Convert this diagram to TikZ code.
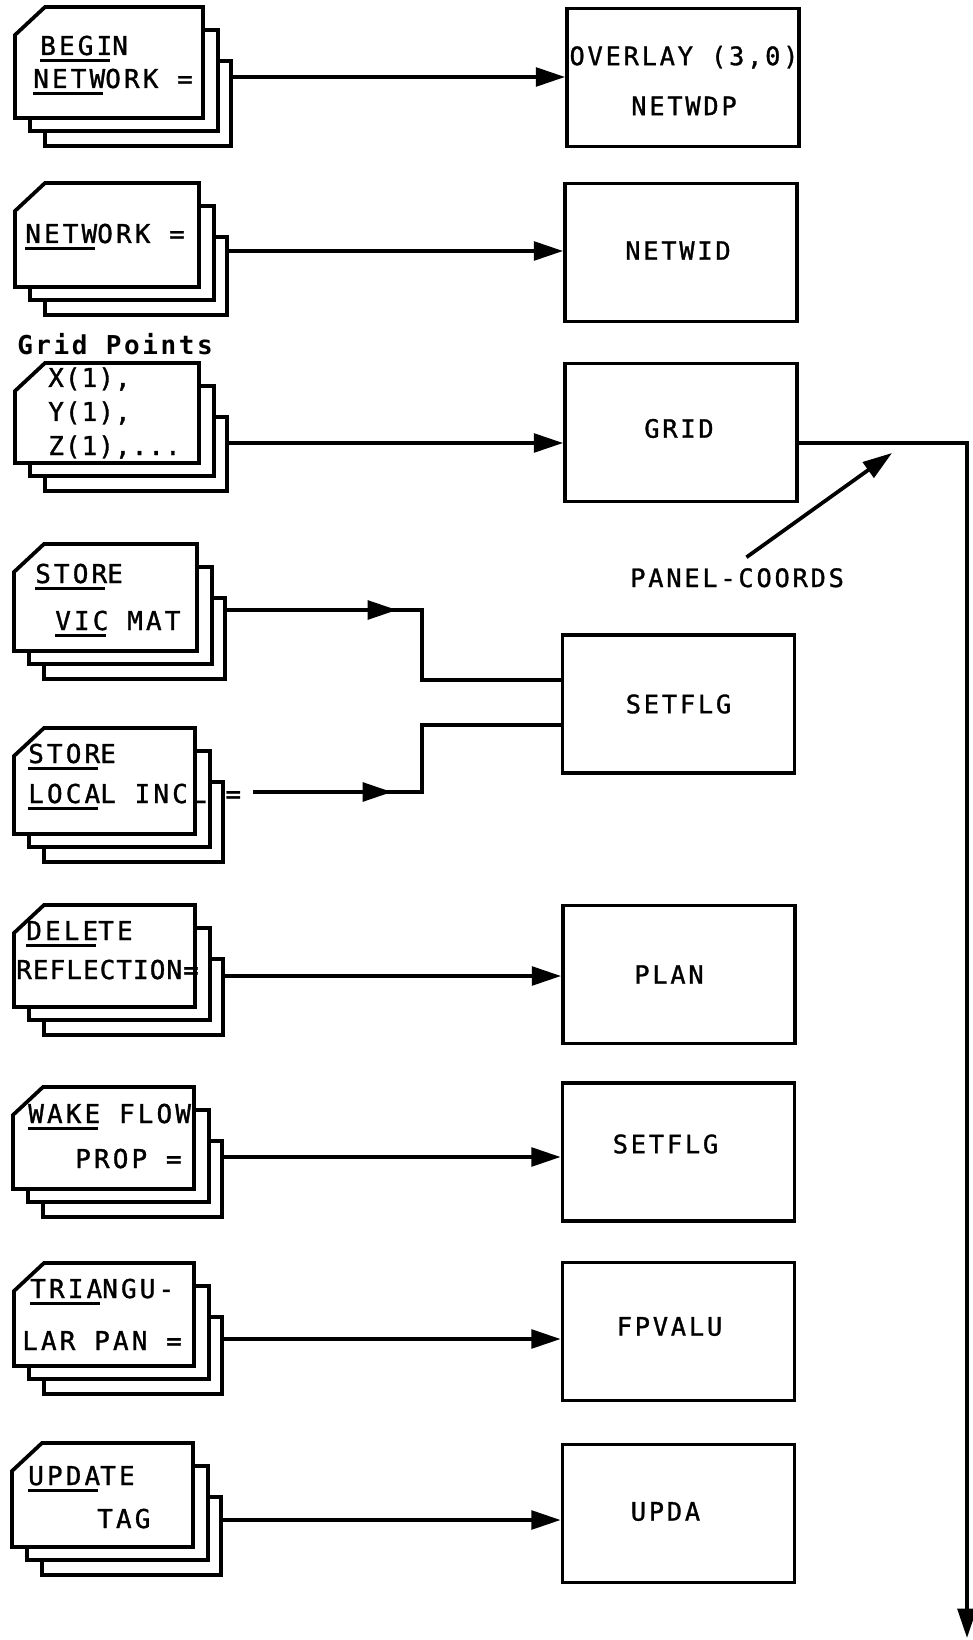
\documentclass[tikz,border=0pt]{standalone}
\usepackage{fontspec}
\usetikzlibrary{arrows.meta, calc}
\newfontfamily\cardfont[LetterSpace=12,FakeBold=1.2]{DejaVu Sans Mono}
\newfontfamily\cardnarrow[LetterSpace=4,FakeBold=1.2]{DejaVu Sans Mono}
\newfontfamily\boxfont[LetterSpace=11,FakeBold=1.2]{DejaVu Sans Mono}
\newfontfamily\gridfont[LetterSpace=10]{DejaVu Sans Mono Bold}
\newsavebox\kwbox
% parola chiave sottolineata
\newcommand{\kw}[1]{\sbox\kwbox{#1}\rlap{\rule[-5pt]{\dimexpr\wd\kwbox-2pt\relax}{1.9pt}}\usebox\kwbox}
\tikzset{
  % Schede e moduli
  card/.style={line width=2.8pt,fill=white},
  card text/.style={anchor=base west,inner sep=0,font=\cardfont\fontsize{19.5}{24}\selectfont},
  card narrow/.style={card text,font=\cardnarrow\fontsize{19.5}{24}\selectfont},
  routine/.style={draw,line width=2.8pt,minimum width=174pt,minimum height=103.5pt,inner sep=0},
  routine text/.style={inner sep=0,align=center,font=\boxfont\fontsize{19}{37.5}\selectfont},
  % Connessioni
  connect/.style={line width=2.8pt},
  connect arrow/.style={connect,-{Triangle[length=22pt,width=14pt]}}
}
% pila di tre schede: angolo sup. sinistro e inf. destro della prima
\newcommand{\cardstack}[4]{%
  \draw[card] (#1+30,#2+54) rectangle (#3+28,#4+28);
  \draw[card] (#1+15,#2+23) rectangle (#3+15,#4+13);
  \draw[card] (#1,#2+28) -- (#1+30,#2) -- (#3,#2) -- (#3,#4) -- (#1,#4) -- cycle;}

\begin{document}
\begin{tikzpicture}[x=0.75pt,y=-0.75pt]
  \useasboundingbox (0,0) rectangle (973,1640);
  % schede di ingresso
  \cardstack{15}{7}{203}{118}
  \cardstack{15}{183}{199}{287}
  \cardstack{15}{363}{199}{463}
  \cardstack{14}{544}{197}{651}
  \cardstack{14}{728}{195}{834}
  \cardstack{14}{905}{195}{1007}
  \cardstack{13}{1087}{194}{1189}
  \cardstack{14}{1263}{194}{1366}
  \cardstack{12}{1443}{193}{1547}
  \node[card text] (begin) at (40,55) {\kw{BEGI}N};
  \node[card text] (network) at (33,88) {\kw{NETW}ORK =};
  \node[card text] (netw) at (25,243) {\kw{NETW}ORK =};
  \node[card text,font=\gridfont\fontsize{19.5}{24}\selectfont] (gridpts) at (17,355) {Grid Points};
  \node[card narrow] (gx) at (48,387) {X(1),};
  \node[card narrow] (gy) at (48,421) {Y(1),};
  \node[card narrow] (gz) at (48,455) {Z(1),...};
  \node[card text] (vicstore) at (35,583) {\kw{STOR}E};
  \node[card text] (vicmat) at (55,630) {\kw{VIC} MAT};
  \node[card text] (locstore) at (28,763) {\kw{STOR}E};
  \node[card text] (locinc) at (28,803) {\kw{LOCA}L INCL =};
  \node[card text] (delete) at (26,940) {\kw{DELE}TE};
  \node[card narrow] (reflect) at (16,979) {REFLECTION=};
  \node[card text] (wake) at (28,1123) {\kw{WAKE} FLOW};
  \node[card text] (prop) at (75,1168) {PROP =};
  \node[card text] (triang) at (30,1298) {\kw{TRIA}NGU-};
  \node[card text] (larpan) at (22,1350) {LAR PAN =};
  \node[card text] (update) at (28,1485) {\kw{UPDA}TE};
  \node[card text] (tag) at (97,1528) {TAG};
  % moduli
  \node[routine] (netwdp) at (683,77.5) {};
  \node[routine] (netwid) at (681,252.5) {};
  \node[routine] (grid) at (681,432.5) {};
  \node[routine] (setflga) at (678.5,704) {};
  \node[routine] (plan) at (679,974.5) {};
  \node[routine] (setflgb) at (678.5,1152) {};
  \node[routine] (fpvalu) at (678.5,1331.5) {};
  \node[routine] (upda) at (678.5,1513.5) {};
  \node[routine text] (netwdplbl) at ($(netwdp)+(1,3)$) {OVERLAY (3,0)\\NETWDP};
  \node[routine text] (netwidlbl) at ($(netwid)+(-3,-2)$) {NETWID};
  \node[routine text] (gridlbl) at ($(grid)+(-2,-4)$) {GRID};
  \node[routine text] (setflgalbl) at ($(setflga)+(0,0)$) {SETFLG};
  \node[routine text] (planlbl) at ($(plan)+(-10,0)$) {PLAN};
  \node[routine text] (setflgblbl) at ($(setflgb)+(-13,-8)$) {SETFLG};
  \node[routine text] (fpvalulbl) at ($(fpvalu)+(-9,-5)$) {FPVALU};
  \node[routine text] (updalbl) at ($(upda)+(-13,-2)$) {UPDA};
  \node[routine text,anchor=base west] (pcoords) at (630,587) {PANEL-COORDS};
  % collegamenti
  \coordinate (s1) at (231,77);
  \coordinate (s2) at (227,251);
  \coordinate (s3) at (227,443);
  \coordinate (s4) at (225,610);
  \coordinate (s5) at (253,792);
  \coordinate (s6) at (223,976);
  \coordinate (s7) at (222,1157);
  \coordinate (s8) at (222,1339);
  \coordinate (s9) at (221,1520);
  \draw[connect arrow] (s1) -- (s1 -| netwdp.west);
  \draw[connect arrow] (s2) -- (s2 -| netwid.west);
  \draw[connect arrow] (s3) -- (s3 -| grid.west);
  \draw[connect arrow] (s6) -- (s6 -| plan.west);
  \draw[connect arrow] (s7) -- (s7 -| setflgb.west);
  \draw[connect arrow] (s8) -- (s8 -| fpvalu.west);
  \draw[connect arrow] (s9) -- (s9 -| upda.west);
  \coordinate (m4) at (397,610);
  \coordinate (j4) at (422,680);
  \draw[connect] (s4) -| (j4) -- (j4 -| setflga.west);
  \draw[connect arrow] (s4) -- (m4);
  \coordinate (m5) at (392,792);
  \coordinate (j5) at (422,725);
  \draw[connect] (s5) -| (j5) -- (j5 -| setflga.west);
  \draw[connect arrow] (s5) -- (m5);
  \coordinate (out) at (967,1638);
  \draw[connect arrow] (s3 -| grid.east) -| (out);
  \coordinate (pctip) at (892,453);
  \draw[connect arrow] ([xshift=7pt,yshift=8pt]pcoords.north) -- (pctip);
\end{tikzpicture}
\end{document}
